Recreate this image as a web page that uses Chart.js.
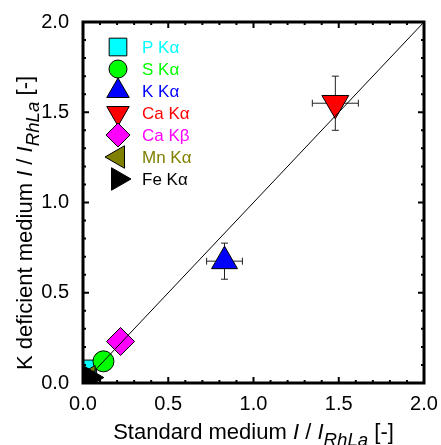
<!DOCTYPE html>
<html>
<head>
<meta charset="utf-8">
<script src="https://cdn.jsdelivr.net/npm/chart.js@4"></script>
<style>
  body { margin: 0; background: #fff; }
  #wrap { position: relative; width: 441px; height: 445px; overflow: hidden; font-family: "Liberation Sans", Arial, sans-serif; }
  .axtitle { position: absolute; font-size: 22px; line-height: 22px; color: #000; text-align: center; white-space: nowrap; }
  .axtitle sub { font-size: 0.85em; vertical-align: -0.4em; line-height: 0; }
  #xtitle { left: 83px; width: 341px; top: 421px; }
  #ytitle { left: -175px; width: 400px; top: 212px; transform: rotate(-90deg); }
</style>
</head>
<body>
<div id="wrap">
  <canvas id="myChart" width="441" height="445"></canvas>
  <div class="axtitle" id="xtitle">Standard medium <i>I</i> / <i>I</i><sub><i>RhLa</i></sub> [-]</div>
  <div class="axtitle" id="ytitle">K deficient medium <i>I</i> / <i>I</i><sub><i>RhLa</i></sub> [-]</div>
</div>
<script>
// data
const lines = ["P Kα", "S Kα", "K Kα", "Ca Kα", "Ca Kβ", "Mn Kα", "Fe Kα"];
const standard = [0.03, 0.12, 0.83, 1.48, 0.22, 0.03, 0.04];
const deficient = [0.08, 0.12, 0.675, 1.55, 0.23, 0.03, 0.03];
const standardErr = [0.01, 0.02, 0.105, 0.135, 0.03, 0.005, 0.005];
const deficientErr = [0.01, 0.02, 0.1, 0.15, 0.03, 0.005, 0.005];
const parityLine = [0, 2];
const tickValues = [0, 0.5, 1.0, 1.5, 2.0];

const markerColors = ["#00ffff", "#00ff00", "#0000ff", "#ff0000", "#ff00ff", "#808000", "#000000"];
const labelColors = ["#00ffff", "#00ff00", "#0000ff", "#ff0000", "#ff00ff", "#808000", "#000000"];
const markerStyles = ["rect", "circle", "triangle", "triangle", "rectRot", "triangle", "triangle"];
const markerRotations = [0, 0, 0, 180, 0, -90, 90];
const markerSizes = [12, 10.5, 15, 15.5, 14, 14, 14];
const legendSizes = [12.5, 9, 13, 13, 12, 13, 13];

const FONT = "'Liberation Sans', Arial, sans-serif";

// error bars, drawn under the markers
const errorBars = {
  id: "errorBars",
  beforeDatasetsDraw(chart) {
    const { ctx, scales: { x, y } } = chart;
    const cap = 3.5;
    ctx.save();
    ctx.strokeStyle = "#222";
    ctx.lineWidth = 1;
    for (let i = 0; i < standard.length; i++) {
      const px = x.getPixelForValue(standard[i]);
      const py = y.getPixelForValue(deficient[i]);
      const x0 = x.getPixelForValue(standard[i] - standardErr[i]);
      const x1 = x.getPixelForValue(standard[i] + standardErr[i]);
      const y0 = y.getPixelForValue(deficient[i] - deficientErr[i]);
      const y1 = y.getPixelForValue(deficient[i] + deficientErr[i]);
      ctx.beginPath();
      ctx.moveTo(x0, py); ctx.lineTo(x1, py);
      ctx.moveTo(x0, py - cap); ctx.lineTo(x0, py + cap);
      ctx.moveTo(x1, py - cap); ctx.lineTo(x1, py + cap);
      ctx.moveTo(px, y0); ctx.lineTo(px, y1);
      ctx.moveTo(px - cap, y0); ctx.lineTo(px + cap, y0);
      ctx.moveTo(px - cap, y1); ctx.lineTo(px + cap, y1);
      ctx.stroke();
    }
    ctx.restore();
  }
};

// legend inside the plot, top left
const insideLegend = {
  id: "insideLegend",
  afterDatasetsDraw(chart) {
    const ctx = chart.ctx;
    const mx = 118, tx = 142, y0 = 47, dy = 22;
    ctx.save();
    for (let i = 0; i < lines.length; i++) {
      const yy = y0 + i * dy;
      ctx.fillStyle = markerColors[i];
      ctx.strokeStyle = "#000";
      ctx.lineWidth = 1;
      Chart.helpers.drawPoint(ctx, {
        pointStyle: markerStyles[i],
        rotation: markerRotations[i],
        radius: legendSizes[i],
        borderWidth: 1
      }, mx, yy);
      ctx.fillStyle = labelColors[i];
      ctx.font = "17px " + FONT;
      ctx.textAlign = "left";
      ctx.textBaseline = "middle";
      ctx.fillText(lines[i], tx, yy + 1);
    }
    ctx.restore();
  }
};

// box frame with inward ticks on all four sides
const frame = {
  id: "frame",
  afterDraw(chart) {
    const { ctx, chartArea: { left, right, top, bottom }, scales: { x, y } } = chart;
    ctx.save();
    ctx.strokeStyle = "#000";
    ctx.lineWidth = 2;
    ctx.beginPath();
    for (let k = 0; k <= 20; k++) {
      const v = k / 10;
      const len = k % 5 === 0 ? 6 : 3;
      const px = x.getPixelForValue(v);
      const py = y.getPixelForValue(v);
      ctx.moveTo(px, bottom); ctx.lineTo(px, bottom - len);
      ctx.moveTo(px, top); ctx.lineTo(px, top + len);
      ctx.moveTo(left, py); ctx.lineTo(left + len, py);
      ctx.moveTo(right, py); ctx.lineTo(right - len, py);
    }
    ctx.stroke();
    ctx.lineWidth = 3;
    ctx.strokeRect(left, top, right - left, bottom - top);
    ctx.restore();
  }
};

const ctx = document.getElementById("myChart").getContext("2d");

const myChart = new Chart(ctx, {
  type: "scatter",
  data: {
    datasets: [
      {
        type: "line",
        data: parityLine.map((v) => ({ x: v, y: v })),
        borderColor: "#000",
        borderWidth: 1,
        pointRadius: 0,
        order: 0,
      },
      {
        data: standard.map((v, i) => ({ x: v, y: deficient[i] })),
        pointStyle: markerStyles,
        pointRotation: markerRotations,
        pointRadius: markerSizes,
        pointBackgroundColor: markerColors,
        pointBorderColor: "#000",
        pointBorderWidth: 1,
        order: 1,
      },
    ],
  },
  options: {
    responsive: false,
    animation: false,
    layout: { padding: { top: 22, right: 17 } },
    plugins: {
      legend: { display: false },
      tooltip: { enabled: false },
    },
    scales: {
      x: {
        type: "linear",
        min: 0,
        max: 2,
        afterBuildTicks: (s) => { s.ticks = tickValues.map((v) => ({ value: v })); },
        ticks: {
          callback: (v) => v.toFixed(1),
          font: { family: FONT, size: 20 },
          color: "#000",
          padding: 1,
          maxRotation: 0,
        },
        grid: { display: false },
        border: { display: false },
        afterFit: (s) => { s.height = 62; },
      },
      y: {
        type: "linear",
        min: 0,
        max: 2,
        afterBuildTicks: (s) => { s.ticks = tickValues.map((v) => ({ value: v })); },
        ticks: {
          callback: (v) => v.toFixed(1),
          font: { family: FONT, size: 20 },
          color: "#000",
          padding: 6,
        },
        grid: { display: false },
        border: { display: false },
        afterFit: (s) => { s.width = 83; },
      },
    },
  },
  plugins: [errorBars, insideLegend, frame],
});
</script>
</body>
</html>
